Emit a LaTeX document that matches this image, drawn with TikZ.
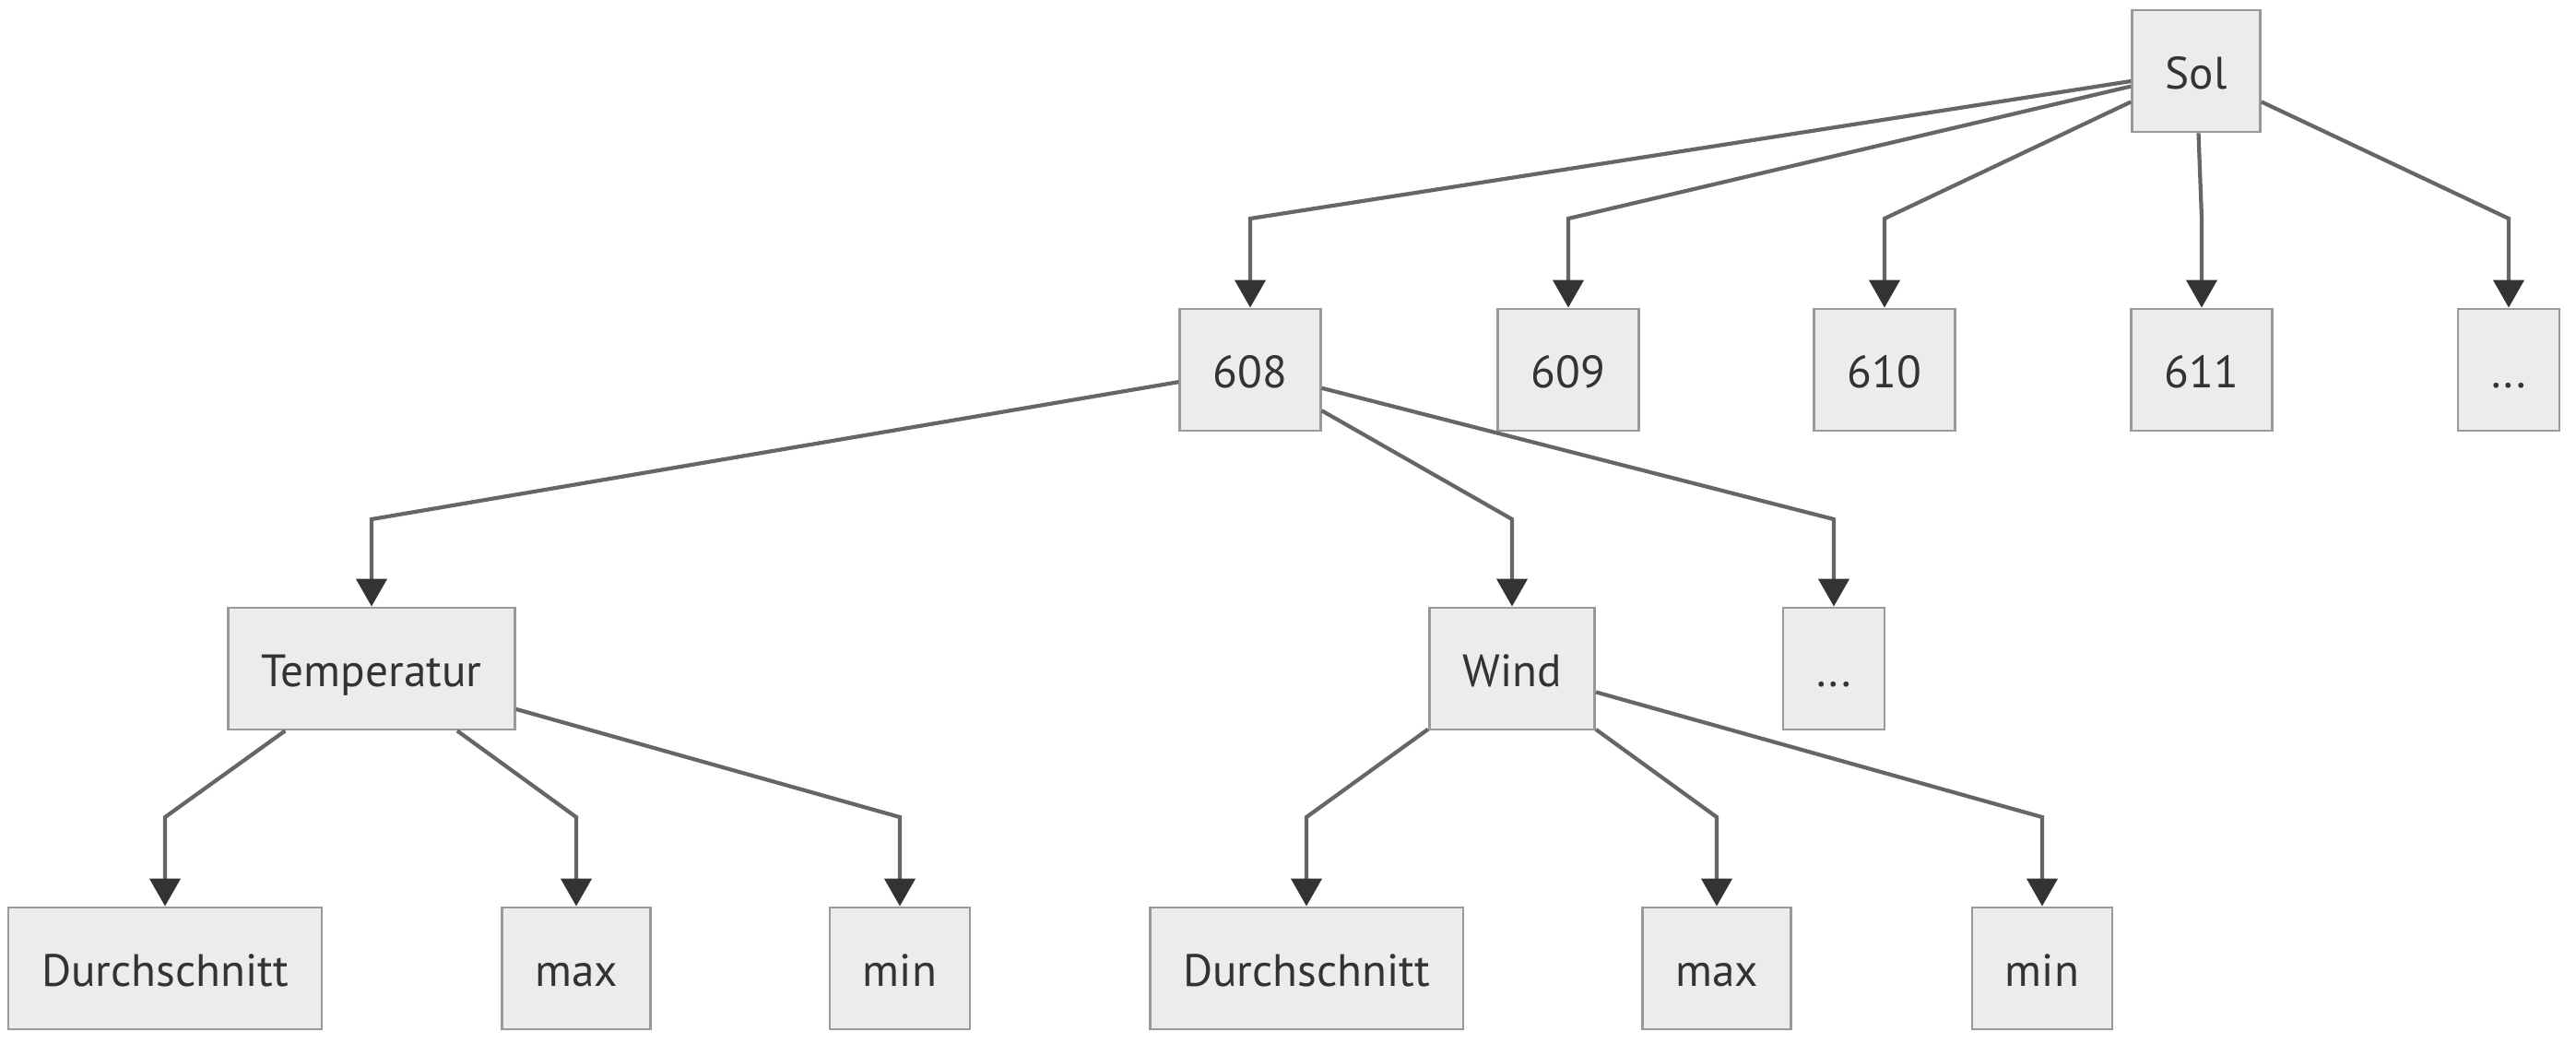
\documentclass[tikz,border=0pt]{standalone}
\usepackage{fontspec}
\setmainfont{PT Sans}
\usetikzlibrary{arrows.meta}
\definecolor{boxfill}{HTML}{ECECEC}
\definecolor{boxline}{HTML}{999999}
\definecolor{linkcol}{HTML}{666666}
\definecolor{tipcol}{HTML}{333333}
\definecolor{textcol}{HTML}{333333}
\begin{document}
\begin{tikzpicture}
	  [
	    box/.style  = {draw=boxline, fill=boxfill, line width=0.8pt, text=textcol,
	                   minimum height=1.32cm, inner xsep=0.36cm,
	                   text height=2.2ex, text depth=0ex,
	                   font=\fontsize{14}{16}\selectfont},
	    link/.style = {draw=linkcol, line width=1.2pt,
	                   -{Triangle[width=0.33cm, length=0.3cm, color=tipcol]}}
	  ]
	  \useasboundingbox (0,0) rectangle (27.94,-11.32);
	  % knick-hoehen
	  \coordinate (r1) at (0,-2.37);
	  \coordinate (r2) at (0,-5.63);
	  \coordinate (r3) at (0,-8.86);
	  % wurzel
	  \node[box] (sol) at (23.82,-0.77) {Sol};
	  % tage
	  \node[box] (d608) at (13.56,-4.01) {608};
	  \node[box] (d609) at (17.01,-4.01) {609};
	  \node[box] (d610) at (20.44,-4.01) {610};
	  \node[box] (d611) at (23.88,-4.01) {611};
	  \node[box] (dmore) at (27.21,-4.01) {...};
	  % messgroessen
	  \node[box] (temp) at (4.03,-7.25) {Temperatur};
	  \node[box] (wind) at (16.40,-7.25) {Wind};
	  \node[box] (gmore) at (19.89,-7.25) {...};
	  % werte
	  \node[box] (tavg) at (1.79,-10.50) {Durchschnitt};
	  \node[box] (tmax) at (6.25,-10.50) {max};
	  \node[box] (tmin) at (9.76,-10.50) {min};
	  \node[box] (wavg) at (14.17,-10.50) {Durchschnitt};
	  \node[box] (wmax) at (18.62,-10.50) {max};
	  \node[box] (wmin) at (22.15,-10.50) {min};
	  % kanten
	  \foreach \c in {d608,d609,d610,d611,dmore}
	    \draw[link] (sol) -- (\c |- r1) -- (\c);
	  \foreach \c in {temp,wind,gmore}
	    \draw[link] (d608) -- (\c |- r2) -- (\c);
	  \foreach \c in {tavg,tmax,tmin}
	    \draw[link] (temp) -- (\c |- r3) -- (\c);
	  \foreach \c in {wavg,wmax,wmin}
	    \draw[link] (wind) -- (\c |- r3) -- (\c);
	\end{tikzpicture}
\end{document}
